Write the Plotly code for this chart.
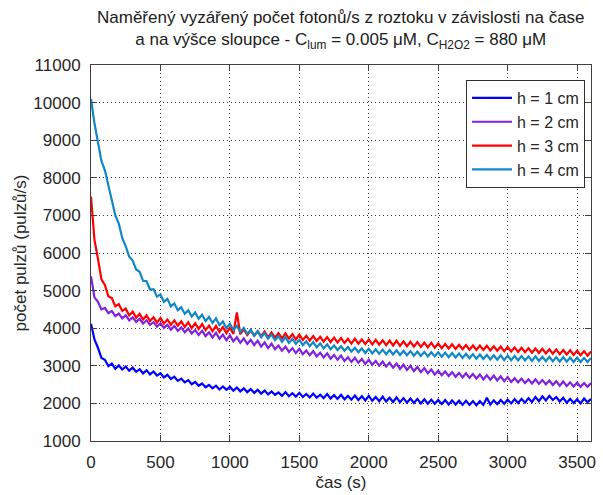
import plotly.graph_objects as go

time_s = list(range(0, 3601, 25))

h1_cm = [4120, 3700, 3480, 3210, 3160, 2990, 3060, 2920, 3010, 2900, 2980, 2870, 2950, 2840, 2910, 2800,
         2880, 2770, 2850, 2740, 2800, 2690, 2760, 2650, 2710, 2600, 2660, 2560, 2620, 2510, 2570, 2470,
         2530, 2430, 2490, 2400, 2470, 2370, 2450, 2360, 2440, 2340, 2420, 2320, 2400, 2300, 2380, 2280,
         2360, 2260, 2340, 2240, 2320, 2230, 2290, 2200, 2300, 2190, 2270, 2180, 2280, 2170, 2250, 2160,
         2260, 2150, 2230, 2140, 2250, 2130, 2220, 2120, 2230, 2110, 2200, 2100, 2210, 2090, 2190, 2080,
         2200, 2070, 2170, 2060, 2180, 2050, 2150, 2040, 2160, 2030, 2140, 2020, 2130, 2010, 2120, 2000,
         2110, 1990, 2100, 1990, 2090, 1980, 2090, 1970, 2080, 1970, 2070, 1960, 2070, 1960, 2060, 1950,
         2060, 1960, 2150, 1970, 2080, 1980, 2090, 1990, 2100, 2000, 2110, 2010, 2120, 2020, 2140, 2040,
         2170, 2060, 2190, 2080, 2200, 2090, 2170, 2050, 2150, 2020, 2120, 2010, 2110, 2000, 2130, 2030,
         2120]

h2_cm = [5380, 4820, 4700, 4500, 4540, 4400, 4460, 4320, 4390, 4260, 4340, 4210, 4290, 4170, 4250, 4120,
         4210, 4090, 4160, 4040, 4130, 4010, 4090, 3960, 4060, 3930, 4020, 3890, 3990, 3860, 3950, 3820,
         3930, 3790, 3890, 3750, 3880, 3720, 3830, 3680, 3810, 3650, 3760, 3610, 3730, 3580, 3690, 3550,
         3670, 3510, 3620, 3470, 3590, 3440, 3540, 3400, 3510, 3370, 3470, 3340, 3450, 3310, 3410, 3280,
         3390, 3250, 3350, 3220, 3330, 3190, 3290, 3160, 3270, 3130, 3230, 3100, 3210, 3080, 3180, 3050,
         3160, 3030, 3130, 3000, 3110, 2980, 3080, 2950, 3060, 2920, 3030, 2890, 3000, 2860, 2970, 2830,
         2940, 2800, 2900, 2770, 2870, 2750, 2850, 2730, 2830, 2710, 2810, 2690, 2800, 2680, 2780, 2660,
         2770, 2640, 2750, 2630, 2740, 2610, 2720, 2590, 2700, 2570, 2670, 2560, 2660, 2540, 2640, 2530,
         2640, 2520, 2620, 2510, 2610, 2490, 2590, 2470, 2580, 2460, 2560, 2450, 2550, 2440, 2540, 2440,
         2540]

h3_cm = [7500, 6350, 5850, 5300, 5150, 4850, 4800, 4580, 4640, 4460, 4520, 4340, 4440, 4280, 4380, 4230,
         4340, 4190, 4290, 4150, 4270, 4120, 4230, 4090, 4210, 4070, 4180, 4030, 4160, 4000, 4130, 3980,
         4110, 3950, 4070, 3920, 4060, 3900, 4030, 3870, 4010, 3850, 4420, 3840, 3970, 3820, 3940, 3800,
         3920, 3780, 3910, 3760, 3890, 3750, 3870, 3730, 3860, 3720, 3840, 3700, 3830, 3690, 3800, 3670,
         3790, 3660, 3770, 3640, 3760, 3630, 3750, 3620, 3740, 3610, 3720, 3590, 3720, 3590, 3700, 3580,
         3700, 3570, 3690, 3560, 3680, 3550, 3670, 3540, 3670, 3530, 3650, 3520, 3640, 3510, 3630, 3500,
         3620, 3490, 3610, 3480, 3590, 3470, 3580, 3460, 3570, 3450, 3560, 3440, 3550, 3430, 3540, 3420,
         3540, 3420, 3530, 3410, 3520, 3400, 3510, 3390, 3500, 3380, 3490, 3370, 3480, 3360, 3470, 3350,
         3460, 3340, 3450, 3330, 3440, 3320, 3430, 3310, 3420, 3300, 3410, 3290, 3400, 3280, 3390, 3270,
         3380]

h4_cm = [10100, 9450, 8950, 8450, 8200, 7800, 7450, 7000, 6780, 6400, 6180, 5900, 5800, 5560, 5500, 5260,
         5250, 5030, 5040, 4840, 4900, 4700, 4780, 4580, 4660, 4480, 4560, 4380, 4480, 4310, 4420, 4250,
         4360, 4190, 4300, 4140, 4260, 4080, 4180, 4000, 4120, 3950, 4060, 3900, 4010, 3850, 3960, 3800,
         3920, 3760, 3870, 3720, 3830, 3680, 3790, 3640, 3760, 3610, 3720, 3580, 3690, 3550, 3650, 3520,
         3630, 3490, 3600, 3460, 3570, 3440, 3540, 3420, 3520, 3400, 3500, 3380, 3480, 3360, 3460, 3340,
         3450, 3330, 3440, 3320, 3430, 3310, 3420, 3300, 3410, 3290, 3400, 3280, 3390, 3270, 3380, 3260,
         3370, 3250, 3360, 3250, 3360, 3240, 3350, 3230, 3340, 3220, 3330, 3210, 3320, 3200, 3310, 3190,
         3300, 3180, 3290, 3170, 3280, 3160, 3280, 3150, 3270, 3150, 3260, 3140, 3260, 3140, 3250, 3130,
         3250, 3130, 3240, 3120, 3240, 3120, 3230, 3110, 3230, 3110, 3220, 3100, 3220, 3100, 3210, 3100,
         3210]

series_names = ["h = 1 cm", "h = 2 cm", "h = 3 cm", "h = 4 cm"]
series_values = [h1_cm, h2_cm, h3_cm, h4_cm]
series_colors = ["#0000ff", "#8020e0", "#ff0000", "#1088c8"]

x_ticks = [0, 500, 1000, 1500, 2000, 2500, 3000, 3500]
y_ticks = [1000, 2000, 3000, 4000, 5000, 6000, 7000, 8000, 9000, 10000, 11000]

title_text = ("Naměřený vyzářený počet fotonů/s z roztoku v závislosti na čase<br>"
              "a na výšce sloupce - C<sub>lum</sub> = 0.005 μM, C<sub>H2O2</sub> = 880 μM")

fig = go.Figure()
for name, vals, col in zip(series_names, series_values, series_colors):
    fig.add_trace(go.Scatter(x=time_s, y=vals, mode="lines", name=name,
                             line=dict(color=col, width=2.2)))

font_family = "Liberation Sans, Arial, sans-serif"
axis_common = dict(showline=True, linecolor="#404040", linewidth=1, mirror="ticks",
                   ticks="inside", ticklen=6, tickcolor="#404040",
                   showgrid=True, gridcolor="#333333", griddash="1px,3px", gridwidth=1,
                   zeroline=False, tickformat="d", ticklabelstandoff=6,
                   tickfont=dict(family=font_family, size=17, color="#262626"))

fig.update_layout(
    width=603, height=495,
    margin=dict(l=91, r=7, t=65, b=48),
    paper_bgcolor="white", plot_bgcolor="white",
    font=dict(family=font_family, size=17, color="#202020"),
    xaxis=dict(range=[0, 3600], tickvals=x_ticks,
               title=dict(text="čas (s)", standoff=4, font=dict(size=17, color="#262626")),
               **axis_common),
    yaxis=dict(range=[1000, 11000], tickvals=y_ticks,
               title=dict(text="počet pulzů (pulzů/s)", standoff=2, font=dict(size=17, color="#262626")),
               **axis_common),
    legend=dict(x=0.988, xanchor="right", y=0.96, yanchor="top",
                bgcolor="white", bordercolor="#303030", borderwidth=1,
                font=dict(family=font_family, size=16, color="#262626"),
                itemwidth=40),
    showlegend=True,
)

fig.add_annotation(text=title_text, xref="paper", yref="paper", x=0.499, y=1.157,
                   xanchor="center", yanchor="top", showarrow=False, align="center",
                   font=dict(family=font_family, size=17, color="#202020"))

fig.write_html("out.html")
